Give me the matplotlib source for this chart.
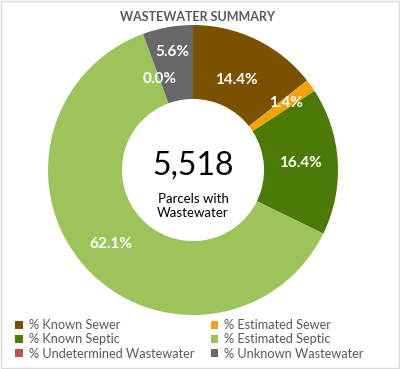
import matplotlib
matplotlib.use("Agg")
import matplotlib.pyplot as plt
from matplotlib.patches import Patch
import numpy as np

# wastewater breakdown (percent of parcels)
categories = ["% Known Sewer", "% Estimated Sewer", "% Known Septic",
              "% Estimated Septic", "% Undetermined Wastewater", "% Unknown Wastewater"]
values = [14.4, 1.4, 16.4, 62.1, 0.0, 5.6]
colors = ["#7B5100", "#F2A30C", "#4B7A06", "#9DC45B", "#C0504D", "#68686C"]
total_parcels = "5,518"

# where each label sits inside the ring (fraction of outer radius)
label_r = [0.69, 0.79, 0.74, 0.76, 0.67, 0.83]

plt.rcParams['font.family'] = ['Lato', 'DejaVu Sans']

fig = plt.figure(figsize=(4, 3.69), dpi=100)
fig.patch.set_facecolor("white")

ax = fig.add_axes([0.1200, 0.1463, 0.7250, 0.7859])
wedges, _ = ax.pie(values, colors=colors, startangle=90, counterclock=False,
                   radius=1.0, wedgeprops=dict(width=0.51, linewidth=0))
ax.set_xlim(-1, 1)
ax.set_ylim(-1, 1)
ax.axis("off")

# percentage labels at the middle angle of each wedge
for w, v, r in zip(wedges, values, label_r):
    ang = np.deg2rad((w.theta1 + w.theta2) / 2)
    ax.text(r * np.cos(ang), r * np.sin(ang), f"{v:.1f}%", ha="center", va="center",
            color="white", fontsize=11, fontweight="bold")

ax.text(0, 0.03, total_parcels, ha="center", va="center", fontsize=23, color="black")
ax.text(0, -0.245, "Parcels with\nWastewater", ha="center", va="center",
        fontsize=9.5, color="black", linespacing=1.2)

fig.text(0.495, 0.953, "WASTEWATER SUMMARY", ha="center", va="center",
         fontsize=9, fontweight="bold", color="#595959")

# legend reads across rows, matplotlib fills down columns
order = [0, 2, 4, 1, 3, 5]
handles = [Patch(facecolor=colors[i], edgecolor="none") for i in order]
labels = [categories[i] for i in order]
fig.legend(handles, labels, loc="upper left", bbox_to_anchor=(0.038, 0.135),
           ncol=2, frameon=False, fontsize=9.2, labelcolor="#595959",
           handlelength=0.6, handleheight=0.6, handletextpad=0.45,
           columnspacing=1.3, labelspacing=0.17, borderaxespad=0, borderpad=0)

# light border round the chart area
fig.patches.append(plt.Rectangle((0.002, 0.002), 0.996, 0.996, transform=fig.transFigure,
                                 fill=False, edgecolor="#D9D9D9", linewidth=1))

fig.savefig("out.png", dpi=100, facecolor="white")
